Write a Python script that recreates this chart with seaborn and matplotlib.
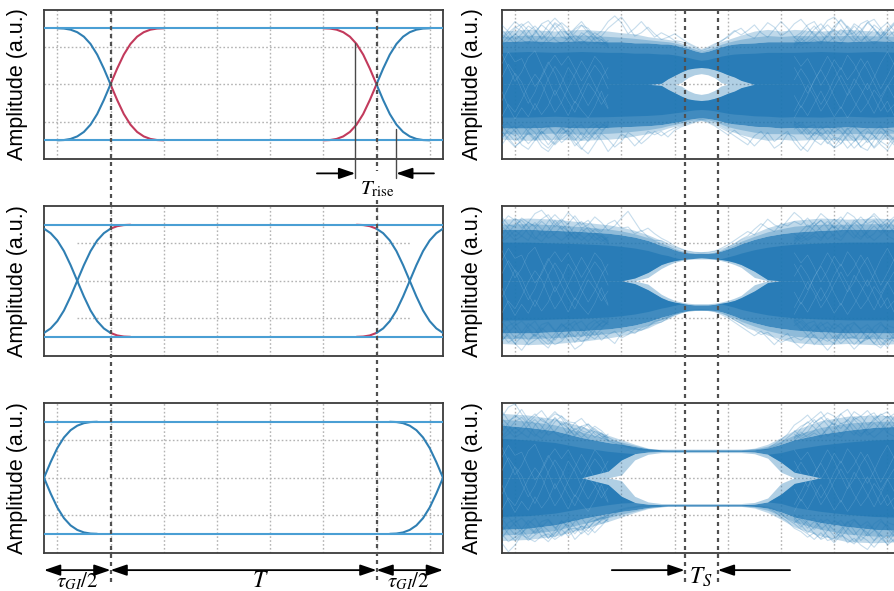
import numpy as np
import matplotlib
matplotlib.use("Agg")
import matplotlib.pyplot as plt
import seaborn as sns
from matplotlib.lines import Line2D
from matplotlib.transforms import blended_transform_factory

################ DATA ################

y_label = "Amplitude (a.u.)"

# transition shape, offsets in grid cells from the crossing point
edge_u = [-1, -0.875, -0.75, -0.625, -0.5, -0.375, -0.25, -0.125, 0,
          0.125, 0.25, 0.375, 0.5, 0.625, 0.75, 0.875, 1]
edge_y = [1, 0.995, 0.975, 0.93, 0.85, 0.72, 0.53, 0.28, 0,
          -0.28, -0.53, -0.72, -0.85, -0.93, -0.975, -0.995, -1]

# crossing points of the left column, one row per panel
crossings = [[1.25, 6.25], [0.625, 6.875], [0, 7.5]]
symbol_start = 1.25
symbol_end = 6.25
ts_start = 3.4375
ts_end = 4.0625

grid_x = [0.25, 1.25, 2.25, 3.25, 4.25, 5.25, 6.25, 7.25]
grid_y = [-0.67, 0, 0.67]

# envelope sample positions for the right column
env_x = [0, 0.5, 1, 1.5, 2, 2.25, 2.5, 2.75, 3, 3.125, 3.25, 3.375, 3.5, 3.625, 3.75,
         3.875, 4, 4.125, 4.25, 4.375, 4.5, 4.75, 5, 5.25, 5.5, 6, 6.5, 7, 7.5]

# top right panel
p1_halo_top = [.95,.98,.95,.98,.95,.92,.9,.85,.82,.8,.78,.74,.7,.66,.62,.66,.7,.76,.8,.84,.88,.95,.98,.95,.98,.95,.98,.95,.95]
p1_band_top = [.76,.78,.76,.78,.76,.76,.74,.74,.72,.72,.7,.67,.64,.6,.57,.59,.63,.67,.7,.72,.73,.74,.76,.76,.76,.78,.76,.78,.76]
p1_haze_top = [0,0,0,0,0,0,0,0,.02,.1,.16,.22,.27,.29,.3,.29,.26,.22,.17,.13,.07,0,0,0,0,0,0,0,0]
p1_hole_top = [0,0,0,0,0,0,0,0,0,0,0,.03,.12,.17,.19,.17,.12,.03,0,0,0,0,0,0,0,0,0,0,0]
p1_hole_bot = [0,0,0,0,0,0,0,0,0,0,0,-.03,-.11,-.16,-.18,-.16,-.11,-.03,0,0,0,0,0,0,0,0,0,0,0]
p1_haze_bot = [0,0,0,0,0,0,0,0,-.02,-.09,-.15,-.21,-.26,-.28,-.29,-.28,-.25,-.21,-.16,-.12,-.06,0,0,0,0,0,0,0,0]
p1_band_bot = [-.78,-.78,-.76,-.78,-.77,-.76,-.75,-.74,-.72,-.7,-.68,-.66,-.63,-.61,-.6,-.61,-.63,-.66,-.69,-.71,-.72,-.75,-.76,-.78,-.77,-.78,-.76,-.78,-.76]
p1_halo_bot = [-.98,-1,-.98,-1,-.98,-.96,-.92,-.88,-.82,-.78,-.75,-.72,-.69,-.66,-.65,-.66,-.7,-.76,-.82,-.86,-.9,-.96,-1,-.98,-1,-.98,-1,-.98,-.98]

# middle right panel
p2_halo_top = [1.1,1.12,1.1,1.05,1.0,.96,.9,.82,.72,.66,.6,.55,.52,.5,.5,.5,.52,.56,.62,.68,.75,.85,.95,1.02,1.08,1.12,1.1,1.12,1.1]
p2_band_top = [.92,.92,.9,.88,.85,.82,.78,.72,.63,.6,.55,.52,.5,.49,.49,.49,.5,.53,.57,.61,.66,.74,.8,.84,.87,.9,.92,.92,.92]
p2_haze_top = [0,0,0,0,0,0,.05,.15,.29,.33,.36,.38,.39,.4,.41,.4,.39,.38,.36,.33,.29,.17,.02,0,0,0,0,0,0]
p2_hole_top = [0,0,0,0,0,0,0,.06,.22,.28,.33,.36,.38,.39,.39,.39,.38,.36,.33,.29,.24,.06,0,0,0,0,0,0,0]
p2_hole_bot = [0,0,0,0,0,0,0,-.06,-.24,-.3,-.35,-.38,-.4,-.41,-.41,-.41,-.4,-.38,-.35,-.31,-.26,-.07,0,0,0,0,0,0,0]
p2_haze_bot = [0,0,0,0,0,0,-.05,-.16,-.3,-.35,-.38,-.4,-.42,-.43,-.43,-.43,-.42,-.4,-.38,-.35,-.3,-.18,-.03,0,0,0,0,0,0]
p2_band_bot = [-.93,-.93,-.91,-.89,-.86,-.83,-.79,-.73,-.65,-.62,-.58,-.55,-.53,-.52,-.52,-.52,-.53,-.55,-.59,-.63,-.68,-.75,-.81,-.85,-.88,-.91,-.93,-.93,-.93]
p2_halo_bot = [-1.12,-1.14,-1.12,-1.08,-1.02,-.98,-.92,-.84,-.73,-.68,-.62,-.57,-.54,-.53,-.53,-.53,-.54,-.58,-.64,-.7,-.77,-.87,-.97,-1.04,-1.1,-1.14,-1.12,-1.14,-1.12]

# bottom right panel
p3_halo_top = [1.15,1.12,1.05,.92,.76,.68,.6,.53,.5,.5,.5,.5,.5,.5,.5,.5,.5,.5,.5,.5,.5,.53,.6,.72,.85,1.02,1.1,1.12,1.1]
p3_band_top = [.94,.9,.84,.72,.63,.6,.56,.52,.5,.49,.49,.49,.49,.49,.49,.49,.49,.49,.49,.49,.49,.5,.53,.6,.68,.78,.85,.9,.92]
p3_haze_top = [0,0,0,0,.12,.32,.43,.46,.47,.47,.47,.47,.47,.47,.47,.47,.47,.47,.47,.47,.47,.46,.42,.28,.1,0,0,0,0]
p3_hole_top = [0,0,0,0,0,.05,.32,.42,.45,.45,.45,.45,.45,.45,.45,.45,.45,.45,.45,.45,.45,.43,.35,.1,0,0,0,0,0]
p3_hole_bot = [0,0,0,0,0,-.05,-.33,-.43,-.46,-.46,-.46,-.46,-.46,-.46,-.46,-.46,-.46,-.46,-.46,-.46,-.46,-.44,-.36,-.1,0,0,0,0,0]
p3_haze_bot = [0,0,0,0,-.12,-.33,-.44,-.47,-.48,-.48,-.48,-.48,-.48,-.48,-.48,-.48,-.48,-.48,-.48,-.48,-.48,-.47,-.43,-.29,-.1,0,0,0,0]
p3_band_bot = [-.92,-.9,-.84,-.73,-.64,-.6,-.57,-.53,-.51,-.5,-.5,-.5,-.5,-.5,-.5,-.5,-.5,-.5,-.5,-.5,-.5,-.51,-.54,-.61,-.7,-.8,-.87,-.92,-.94]
p3_halo_bot = [-1.12,-1.1,-1.04,-.92,-.78,-.7,-.62,-.55,-.52,-.51,-.51,-.51,-.51,-.51,-.51,-.51,-.51,-.51,-.51,-.51,-.51,-.54,-.62,-.74,-.88,-1.04,-1.14,-1.16,-1.14]

# single traces that stick out of the band, one value every 0.125 cells
p1_top_a = [.80,.92,1.02,.95,.82,.90,1.08,1.14,1.0,.84,.80,.92,1.05,1.0,.86,.95,1.12,1.22,1.1,.9,1.0,1.12,.98,.84,
            .92,.86,.78,.76,.72,.66,.6,.64,.7,.78,.84,.94,1.0,
            .88,.82,.96,1.1,1.02,.86,.94,1.08,1.16,1.02,.86,.98,1.14,1.2,1.06,.88,.92,1.08,1.14,.98,.82,.94,1.06,.92]
p1_top_b = [.9,.8,.88,1.04,1.12,.98,.82,.94,1.1,1.02,.88,1.0,1.12,.96,.8,.86,1.0,1.1,1.2,1.04,.86,.92,1.02,.9,
            .8,.84,.9,.82,.74,.68,.62,.66,.72,.76,.86,.96,.88,
            .96,1.06,.92,.84,.98,1.12,1.0,.84,.92,1.06,1.12,.94,.84,.98,1.16,1.02,.86,.96,1.1,1.0,.86,.98,1.1,.96]
p1_bot_a = [-.84,-.96,-1.1,-1.02,-.86,-.94,-1.12,-1.2,-1.04,-.88,-.82,-.96,-1.14,-1.24,-1.06,-.88,-.98,-1.12,-1.02,-.86,-.94,-1.06,-.96,-.84,
            -.92,-.84,-.78,-.74,-.7,-.66,-.62,-.66,-.72,-.78,-.84,-.92,-1.0,
            -1.08,-.92,-.84,-.98,-1.14,-1.06,-.88,-.94,-1.1,-1.2,-1.02,-.86,-.98,-1.14,-1.06,-.88,-.96,-1.12,-1.18,-1.0,-.84,-.96,-1.08,-.94]
p1_bot_b = [-.96,-.84,-.92,-1.08,-1.16,-1.0,-.84,-.98,-1.08,-.96,-.88,-1.04,-1.16,-1.0,-.86,-1.0,-1.2,-1.06,-.88,-.96,-1.1,-.98,-.84,-.9,
            -.84,-.94,-.82,-.76,-.72,-.68,-.64,-.68,-.74,-.82,-.9,-.82,-.92,
            -.98,-1.1,-.98,-.86,-1.02,-.92,-.84,-1.04,-1.18,-1.04,-.86,-.92,-1.06,-.94,-.98,-1.14,-1.02,-.86,-.98,-1.14,-1.02,-.88,-1.0,-1.12]

p2_top_a = [1.02,1.16,1.08,.94,1.04,1.2,1.26,1.12,.96,1.06,1.22,1.1,.94,1.0,1.14,1.04,.9,.98,1.12,1.24,1.06,.88,.94,.84,
            .76,.7,.62,.57,.53,.51,.5,.51,.53,.58,.64,.72,.8,
            .88,.82,.96,1.1,1.0,.94,1.08,1.22,1.12,.96,1.04,1.2,1.1,.94,1.06,1.22,1.14,.98,1.08,1.2,1.08,.96,1.1,1.0]
p2_top_b = [1.14,1.0,.96,1.12,1.04,.98,1.1,1.18,1.02,.92,1.02,1.16,1.0,1.08,.94,.88,1.02,1.08,.94,.96,.84,.9,.78,.72,
            .72,.66,.6,.56,.52,.5,.5,.5,.52,.56,.6,.66,.74,
            .8,.92,1.02,.94,.88,1.02,.98,1.06,1.0,1.12,.98,1.08,.98,1.1,1.0,.92,1.02,1.14,1.02,1.08,.96,1.04,1.14,1.08]
p2_bot_a = [-1.06,-.96,-1.12,-1.24,-1.08,-.96,-1.1,-1.2,-1.02,-.92,-1.06,-1.22,-1.14,-.96,-1.04,-.92,-1.02,-1.12,-.94,-.88,-.94,-.84,-.8,-.76,
            -.74,-.66,-.6,-.57,-.54,-.53,-.52,-.53,-.55,-.6,-.66,-.74,-.82,
            -.9,-.98,-.9,-1.02,-1.14,-1.02,-.94,-1.1,-1.2,-1.08,-.96,-1.1,-1.24,-1.1,-.94,-1.08,-1.22,-1.1,-.98,-1.12,-1.2,-1.06,-1.0,-1.14]
p2_bot_b = [-.96,-1.1,-1.02,-1.0,-1.14,-1.06,-.98,-1.04,-1.14,-1.08,-.94,-1.0,-1.08,-1.04,-.9,-1.06,-.96,-.9,-1.02,-.96,-.86,-.88,-.82,-.72,
            -.7,-.64,-.59,-.56,-.53,-.52,-.52,-.52,-.54,-.58,-.62,-.7,-.76,
            -.84,-.88,-.96,-.92,-1.02,-1.1,-1.04,-1.0,-1.06,-.98,-1.14,-1.02,-1.08,-1.0,-1.12,-1.02,-1.0,-1.1,-1.04,-.98,-1.16,-1.02,-1.08,-1.0]

p3_top_a = [1.08,1.26,1.32,1.14,.98,1.1,1.2,1.04,1.14,1.1,.94,.86,.92,.96,.82,.74,.72,.66,.6,.56,.52,.5,.5,.49,.49,.49,.49,.49,.49,.49,
            .49,.49,.49,.49,.49,.49,.49,.49,.5,.5,.52,.6,.68,.78,.94,1.02,1.12,.98,1.06,1.16,1.1,.96,1.02,1.18,1.1,.94,1.02,1.14,1.06,1.14,1.02]
p3_top_b = [1.2,1.02,1.08,1.22,1.04,1.14,1.02,.96,1.06,.94,1.0,.98,.84,.8,.88,.78,.66,.62,.58,.54,.51,.5,.49,.49,.49,.49,.49,.49,.49,.49,
            .49,.49,.49,.49,.49,.49,.49,.49,.49,.5,.51,.56,.62,.72,.82,.92,.98,1.08,1.18,1.02,.94,1.14,1.22,1.04,1.1,1.2,1.06,1.12,1.18,1.02,1.08]
p3_bot_a = [-1.0,-1.14,-1.06,-.98,-1.12,-1.02,-.94,-1.08,-.98,-.92,-1.04,-.94,-.86,-.9,-.78,-.72,-.7,-.64,-.58,-.55,-.53,-.51,-.51,-.5,-.5,-.5,-.5,-.5,-.5,-.5,
            -.5,-.5,-.5,-.5,-.5,-.5,-.5,-.5,-.51,-.52,-.54,-.6,-.7,-.78,-.9,-.96,-1.06,-.98,-1.1,-1.04,-1.16,-1.02,-1.1,-1.18,-1.04,-1.12,-1.24,-1.1,-1.02,-1.14,-1.04]
p3_bot_b = [-1.16,-1.32,-1.2,-1.02,-1.08,-1.14,-1.04,-1.0,-1.1,-1.02,-.92,-.9,-.94,-.8,-.76,-.72,-.66,-.6,-.56,-.53,-.52,-.5,-.5,-.5,-.5,-.5,-.5,-.5,-.5,-.5,
            -.5,-.5,-.5,-.5,-.5,-.5,-.5,-.5,-.5,-.51,-.52,-.56,-.64,-.74,-.82,-.92,-1.0,-1.1,-.98,-1.12,-1.08,-.98,-1.16,-1.08,-1.2,-1.28,-1.12,-1.02,-1.2,-1.1,-1.0]

# more traces for the outer stretches, shared by the three panels
tex_left_x = [0,.125,.25,.375,.5,.625,.75,.875,1,1.125,1.25,1.375,1.5,1.625,1.75,1.875,2]
tex_right_x = [5.5,5.625,5.75,5.875,6,6.125,6.25,6.375,6.5,6.625,6.75,6.875,7,7.125,7.25,7.375,7.5]
fringe_left = [
    [.72,.86,1.0,1.08,.96,.78,.7,.84,1.0,1.1,1.0,.82,.72,.82,.92,.84,.72],
    [.98,.84,.72,.8,.94,1.04,.92,.76,.84,.98,.88,.74,.86,.96,.86,.74,.66],
    [.8,.98,1.12,1.02,.84,.74,.88,1.06,1.18,1.06,.88,.76,.92,.84,.72,.8,.7],
    [.7,.78,.9,.8,.72,.94,1.06,.96,.8,.72,.82,.98,1.06,.92,.78,.7,.78],
    [1.06,.94,.78,.9,1.04,.96,.8,.9,1.08,.94,.76,.88,.8,.7,.84,.8,.68],
    [-.72,-.88,-1.02,-.92,-.76,-.86,-1.04,-1.14,-1.0,-.82,-.74,-.88,-1.0,-.9,-.76,-.7,-.78],
    [-.96,-.8,-.74,-.92,-1.06,-.94,-.78,-.74,-.88,-1.04,-.94,-.78,-.72,-.86,-.98,-.86,-.72],
    [-.84,-1.0,-1.12,-1.0,-.82,-.72,-.9,-1.08,-.94,-.76,-.9,-1.1,-.98,-.78,-.7,-.82,-.74],
    [-.74,-.7,-.84,-.98,-.88,-1.0,-.88,-.76,-.9,-.78,-.86,-1.0,-.86,-.96,-.84,-.76,-.7],
    [-1.08,-.92,-.8,-.72,-.84,-.98,-.84,-.94,-1.06,-.92,-.8,-.72,-.9,-1.02,-.88,-.74,-.66],
]
fringe_right = [
    [.72,.88,1.0,.9,.76,.86,1.04,1.14,1.0,.82,.74,.9,1.06,.96,.8,.74,.88],
    [.84,.74,.82,.98,1.08,.94,.78,.72,.88,1.04,.92,.76,.84,1.0,1.1,.96,.78],
    [.66,.78,.92,1.04,.9,.74,.84,.98,.88,.76,.92,1.1,1.16,1.0,.84,.94,1.06],
    [.78,.7,.76,.84,.96,1.06,.94,.78,.9,1.08,1.0,.82,.72,.82,.94,1.08,.98],
    [.7,.82,.72,.8,.72,.9,.98,.88,1.04,.92,.78,.86,.98,.86,1.02,.86,.74],
    [-.7,-.84,-.98,-.88,-.74,-.9,-1.04,-.92,-.78,-.94,-1.12,-1.0,-.82,-.74,-.9,-1.04,-.92],
    [-.8,-.72,-.84,-1.0,-1.08,-.94,-.76,-.84,-1.0,-1.14,-1.02,-.84,-.92,-1.08,-1.18,-1.0,-.82],
    [-.66,-.76,-.9,-.78,-.88,-1.04,-1.12,-.96,-.8,-.74,-.88,-1.04,-.94,-.78,-.86,-.98,-1.1],
    [-.74,-.88,-.76,-.72,-.92,-.82,-.94,-1.06,-.92,-.76,-.86,-.78,-.92,-1.02,-1.1,-.94,-.78],
    [-.72,-.68,-.8,-.92,-.8,-.74,-.86,-.76,-.9,-1.02,-.9,-.98,-1.12,-.96,-.8,-.84,-.98],
]

# light traces inside the band, left and right stretches
tex_left = [
    [.55,.3,.05,.22,.48,.6,.34,.08,-.2,.02,.3,.12,-.16,-.38,-.18,.1,.3],
    [-.3,-.06,.2,.04,-.24,-.46,-.2,.1,.32,.14,-.12,-.34,-.1,.14,.34,.18,-.08],
    [.12,.36,.18,-.1,-.34,-.14,.16,.4,.2,-.08,-.3,-.5,-.24,.02,-.14,-.36,-.18],
    [-.58,-.36,-.5,-.28,-.02,.18,.02,-.26,-.5,-.32,-.06,.18,.42,.22,-.02,-.24,-.44],
    [.36,.58,.4,.46,.2,-.04,.12,.36,.52,.34,.5,.28,.06,.26,.5,.36,.1],
    [-.12,-.4,-.62,-.42,-.58,-.34,-.54,-.38,-.1,-.34,-.56,-.3,-.46,-.6,-.4,-.12,-.42],
]
tex_right = [
    [.3,.08,-.16,.06,.28,.5,.3,.04,-.2,-.02,.24,.42,.18,-.08,.14,.38,.2],
    [-.2,-.42,-.2,.08,.26,.04,-.22,-.44,-.18,.1,-.08,-.3,-.52,-.28,-.04,.16,-.06],
    [.5,.32,.46,.24,-.02,.18,.44,.26,.52,.36,.12,-.1,.12,.38,.58,.36,.14],
    [-.48,-.26,-.02,-.22,-.48,-.3,-.06,.16,-.06,-.3,-.5,-.34,-.1,-.26,-.5,-.36,-.12],
    [.08,.28,.1,-.14,-.36,-.16,.1,.3,.08,.24,.46,.26,.02,-.22,-.02,-.24,-.46],
    [-.6,-.38,-.56,-.34,-.12,-.36,-.58,-.4,-.6,-.42,-.2,.02,-.24,-.48,-.3,-.56,-.34],
]

################ SETUP ################

W, H = 894, 591
LEFT_X, RIGHT_X, PANEL_W = 44, 501.7, 399
PANEL_TOPS = [9.5, 206, 403]
PANEL_H = 149.6

BLUE_RAIL = "#4a9fd4"
BLUE_LINE = "#2f7fb3"
RED_LINE = "#c23a5c"
TRACE = "#1f77b4"
GRID = "#b3b3b3"
SPINE = "#3c3c3c"

sns.set_theme(style="white")
plt.rcParams["font.family"] = ["Liberation Sans", "DejaVu Sans"]
plt.rcParams["mathtext.fontset"] = "stix"

fig, axes = plt.subplots(3, 2, figsize=(W / 100, H / 100), dpi=100)
fig.patch.set_facecolor("white")

for row, top in enumerate(PANEL_TOPS):
    for col, left in enumerate([LEFT_X, RIGHT_X]):
        ax = axes[row, col]
        ax.set_position([left / W, 1 - (top + PANEL_H) / H, PANEL_W / W, PANEL_H / H])
        ax.set_xlim(0, 7.5)
        ax.set_ylim(-1.335, 1.335)
        ax.set_xticks([])
        ax.set_yticks([])
        ax.set_facecolor("white")
        for spine in ax.spines.values():
            spine.set_visible(True)
            spine.set_color(SPINE)
            spine.set_linewidth(1.3)
        ax.set_ylabel(y_label, fontsize=15.5, color="black")
        ax.yaxis.set_label_coords(-0.04 if col == 0 else -0.047, 0.5)

        # the middle left panel has a shorter grid
        if row == 1 and col == 0:
            vx = grid_x[1:-1]
            hx = (0.625, 6.875)
        else:
            vx = grid_x
            hx = (0, 7.5)
        ax.vlines(vx, -1.335, 1.335, color=GRID, lw=1, linestyles=(0, (1.2, 1.6)), zorder=1)
        ax.hlines(grid_y, hx[0], hx[1], color=GRID, lw=1, linestyles=(0, (1.2, 1.6)), zorder=1)

################ LEFT COLUMN, IDEAL EYE ################

def draw_edge(ax, cross, values):
    xs = np.array(edge_u) + cross
    ys = np.array(values)
    outer = (xs <= symbol_start) | (xs >= symbol_end)
    inner = (xs >= symbol_start) & (xs <= symbol_end)
    if inner.sum() > 1:
        sns.lineplot(x=xs[inner], y=ys[inner], ax=ax, color=RED_LINE, lw=1.5,
                     estimator=None, sort=False, zorder=3)
    if outer.sum() > 1:
        sns.lineplot(x=xs[outer], y=ys[outer], ax=ax, color=BLUE_LINE, lw=1.5,
                     estimator=None, sort=False, zorder=4)

for row in range(3):
    ax = axes[row, 0]
    for cross in crossings[row]:
        draw_edge(ax, cross, edge_y)
        draw_edge(ax, cross, [-v for v in edge_y])
    ax.hlines([-1, 1], 0, 7.5, color=BLUE_RAIL, lw=1.5, zorder=5)

################ RIGHT COLUMN, NOISY EYE ################

panels = [
    (p1_halo_top, p1_band_top, p1_haze_top, p1_hole_top, p1_hole_bot, p1_haze_bot, p1_band_bot, p1_halo_bot,
     [p1_top_a, p1_top_b, p1_bot_a, p1_bot_b]),
    (p2_halo_top, p2_band_top, p2_haze_top, p2_hole_top, p2_hole_bot, p2_haze_bot, p2_band_bot, p2_halo_bot,
     [p2_top_a, p2_top_b, p2_bot_a, p2_bot_b]),
    (p3_halo_top, p3_band_top, p3_haze_top, p3_hole_top, p3_hole_bot, p3_haze_bot, p3_band_bot, p3_halo_bot,
     [p3_top_a, p3_top_b, p3_bot_a, p3_bot_b]),
]
trace_x = np.arange(0, 7.625, 0.125)

for row, panel in enumerate(panels):
    ax = axes[row, 1]
    halo_t, band_t, haze_t, hole_t, hole_b, haze_b, band_b, halo_b, traces = panel
    halo_t, band_t, haze_t = np.array(halo_t), np.array(band_t), np.array(haze_t)
    halo_b, band_b, haze_b = np.array(halo_b), np.array(band_b), np.array(haze_b)

    # soft outer edge, two steps
    ax.fill_between(env_x, band_t, halo_t, color=TRACE, alpha=0.28, lw=0, zorder=2)
    ax.fill_between(env_x, band_b, halo_b, color=TRACE, alpha=0.28, lw=0, zorder=2)
    ax.fill_between(env_x, band_t, (band_t + halo_t) / 2, color=TRACE, alpha=0.3, lw=0, zorder=2)
    ax.fill_between(env_x, band_b, (band_b + halo_b) / 2, color=TRACE, alpha=0.3, lw=0, zorder=2)
    ax.fill_between(env_x, haze_t, hole_t, color=TRACE, alpha=0.35, lw=0, zorder=2)
    ax.fill_between(env_x, haze_b, hole_b, color=TRACE, alpha=0.35, lw=0, zorder=2)

    # main band plus a darker core
    ax.fill_between(env_x, haze_t, band_t, color=TRACE, alpha=0.85, lw=0, zorder=2)
    ax.fill_between(env_x, haze_b, band_b, color=TRACE, alpha=0.85, lw=0, zorder=2)
    ax.fill_between(env_x, haze_t, np.maximum(band_t * 0.75, haze_t), color=TRACE, alpha=0.7, lw=0, zorder=2)
    ax.fill_between(env_x, haze_b, np.minimum(band_b * 0.75, haze_b), color=TRACE, alpha=0.7, lw=0, zorder=2)

    for values in traces:
        sns.lineplot(x=trace_x, y=values, ax=ax, color=TRACE, lw=0.8, alpha=0.25,
                     estimator=None, sort=False, zorder=3)
    for values in fringe_left:
        sns.lineplot(x=tex_left_x, y=values, ax=ax, color=TRACE, lw=0.8, alpha=0.25,
                     estimator=None, sort=False, zorder=3)
    for values in fringe_right:
        sns.lineplot(x=tex_right_x, y=values, ax=ax, color=TRACE, lw=0.8, alpha=0.25,
                     estimator=None, sort=False, zorder=3)
    for values in tex_left:
        sns.lineplot(x=tex_left_x, y=values, ax=ax, color="#8fc0e3", lw=0.4, alpha=0.35,
                     estimator=None, sort=False, zorder=3)
    for values in tex_right:
        sns.lineplot(x=tex_right_x, y=values, ax=ax, color="#8fc0e3", lw=0.4, alpha=0.35,
                     estimator=None, sort=False, zorder=3)

################ MARKERS AND ANNOTATIONS ################

def dashed_line(ax, x, y_start=10, y_end=583):
    trans = blended_transform_factory(ax.transData, fig.transFigure)
    fig.add_artist(Line2D([x, x], [1 - y_start / H, 1 - y_end / H], transform=trans, color="#505050",
                          lw=1.6, linestyle=(0, (1.8, 1.8)), zorder=6))

dashed_line(axes[0, 0], symbol_start)
dashed_line(axes[0, 0], symbol_end, 10, 171)
dashed_line(axes[0, 0], symbol_end, 200, 583)
for x in [ts_start, ts_end]:
    dashed_line(axes[0, 1], x)

def arrow(ax, start, end, y, style="-|>"):
    ax.annotate("", xy=(end, y), xytext=(start, y), annotation_clip=False,
                arrowprops=dict(arrowstyle=style + ",head_length=0.7,head_width=0.24", color="black",
                                lw=1.3, shrinkA=0, shrinkB=0, mutation_scale=14))

# rise time markers, top left
ax = axes[0, 0]
for x, y in [(5.85, 0.74), (6.62, -0.79)]:
    ax.plot([x, x], [y, -1.68], color="#4a4a4a", lw=1, clip_on=False, zorder=6)
arrow(ax, 5.13, 5.85, -1.59)
arrow(ax, 7.33, 6.62, -1.59)
ax.text(6.27, -1.875, r"$T_{\mathrm{rise}}$", fontsize=15, ha="center", va="center", color="black")

# symbol and guard interval arrows, bottom left
ax = axes[2, 0]
arrow(ax, 0, symbol_start, -1.648, "<|-|>")
arrow(ax, symbol_start, symbol_end, -1.648, "<|-|>")
arrow(ax, symbol_end, 7.5, -1.648, "<|-|>")
ax.text(0.625, -1.85, r"$\tau_{GI}/2$", fontsize=15, ha="center", va="center", color="black")
ax.text(4.06, -1.84, r"$T$", fontsize=17, ha="center", va="center", color="black")
ax.text(6.85, -1.85, r"$\tau_{GI}/2$", fontsize=15, ha="center", va="center", color="black")

# sampling time arrows, bottom right
ax = axes[2, 1]
arrow(ax, 2.07, ts_start, -1.648)
arrow(ax, 5.42, ts_end, -1.648)
ax.text(3.75, -1.77, r"$T_S$", fontsize=17, ha="center", va="center", color="black")

fig.savefig("out.png", dpi=100)
